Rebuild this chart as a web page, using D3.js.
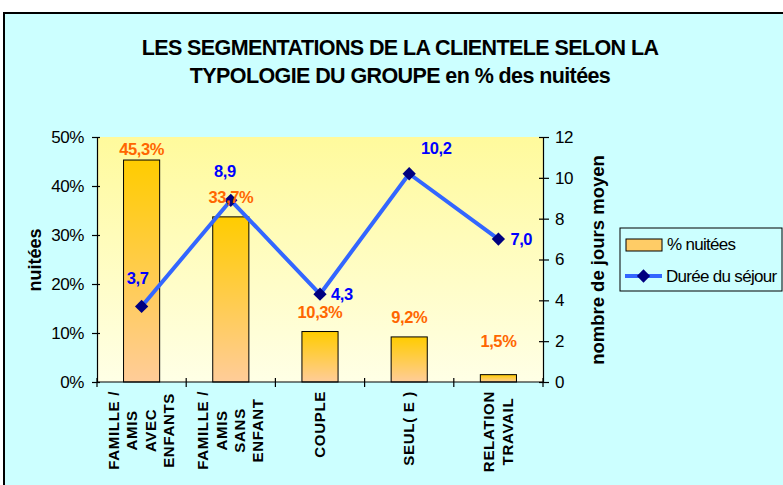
<!DOCTYPE html>
<html>
<head>
<meta charset="utf-8">
<script src="https://cdn.jsdelivr.net/npm/d3@7"></script>
<style>
  html, body { margin: 0; padding: 0; background: #fff; }
  svg { display: block; font-family: "Liberation Sans", Arial, sans-serif; }
</style>
</head>
<body>
<div id="chart"></div>
<script>
// chart values
const categories = ["FAMILLE /\nAMIS\nAVEC\nENFANTS", "FAMILLE /\nAMIS\nSANS\nENFANT", "COUPLE", "SEUL( E )", "RELATION\nTRAVAIL"];
const nuitees = [45.3, 33.7, 10.3, 9.2, 1.5];
const dureeSejour = [3.7, 8.9, 4.3, 10.2, 7.0];
const leftTicks = [0, 10, 20, 30, 40, 50];
const rightTicks = [0, 2, 4, 6, 8, 10, 12];
const titleLines = ["LES SEGMENTATIONS DE LA CLIENTELE SELON LA", "TYPOLOGIE DU GROUPE en % des nuitées"];

const width = 783, height = 485;
const margins = {top: 137, right: 240, bottom: 103, left: 97};
const plotW = width - margins.left - margins.right;
const plotH = height - margins.top - margins.bottom;

const fr = d3.formatLocale({decimal: ",", thousands: " ", grouping: [3], currency: ["", " €"]});
const fmt1 = fr.format(".1f");

const svg = d3.select("#chart").append("svg")
    .attr("width", width)
    .attr("height", height);

const defs = svg.append("defs");
const plotGrad = defs.append("linearGradient").attr("id", "plotGrad")
    .attr("x1", 0).attr("y1", 0).attr("x2", 0).attr("y2", 1);
plotGrad.append("stop").attr("offset", "0%").attr("stop-color", "#FFFA9C");
plotGrad.append("stop").attr("offset", "100%").attr("stop-color", "#FFFFE6");
const barGrad = defs.append("linearGradient").attr("id", "barGrad")
    .attr("x1", 0).attr("y1", 0).attr("x2", 0).attr("y2", 1);
barGrad.append("stop").attr("offset", "0%").attr("stop-color", "#FFCC00");
barGrad.append("stop").attr("offset", "100%").attr("stop-color", "#FFCC99");

// outer frame
svg.append("rect")
    .attr("x", 4).attr("y", 13)
    .attr("width", 800).attr("height", 500)
    .attr("fill", "#CCFFFF")
    .attr("stroke", "#000")
    .attr("stroke-width", 2);

// title
svg.append("g").selectAll("text")
    .data(titleLines)
    .enter()
    .append("text")
    .attr("x", 400)
    .attr("y", (d, i) => 55 + i * 28)
    .attr("text-anchor", "middle")
    .attr("font-size", 21.5)
    .attr("font-weight", "bold")
    .attr("letter-spacing", -0.6)
    .text(d => d);

const g = svg.append("g")
    .attr("transform", "translate(" + margins.left + "," + margins.top + ")");

// scales
const x = d3.scaleBand().domain(categories).range([0, plotW]).paddingInner(0).paddingOuter(0);
const yLeft = d3.scaleLinear().domain([0, 50]).range([plotH, 0]);
const yRight = d3.scaleLinear().domain([0, 12]).range([plotH, 0]);

g.append("rect")
    .attr("width", plotW).attr("height", plotH)
    .attr("fill", "url(#plotGrad)");

// bars
const barW = x.bandwidth() * 0.405;
g.selectAll(".bar")
    .data(nuitees)
    .enter()
    .append("rect")
    .attr("class", "bar")
    .attr("x", (d, i) => x(categories[i]) + (x.bandwidth() - barW) / 2)
    .attr("width", barW)
    .attr("y", d => yLeft(d))
    .attr("height", d => plotH - yLeft(d))
    .attr("fill", "url(#barGrad)")
    .attr("stroke", "#000")
    .attr("stroke-width", 1);

// axes
const leftAxis = g.append("g")
    .call(d3.axisLeft(yLeft).tickValues(leftTicks).tickSize(5).tickPadding(8).tickFormat(d => d + "%"));
const rightAxis = g.append("g")
    .attr("transform", "translate(" + plotW + ",0)")
    .call(d3.axisRight(yRight).tickValues(rightTicks).tickSize(6).tickPadding(6).tickFormat(d => d));
[leftAxis, rightAxis].forEach(ax => {
    ax.select(".domain").attr("stroke", "#000").attr("stroke-width", 1.2);
    ax.selectAll(".tick line").attr("stroke", "#000").attr("stroke-width", 1.2);
    ax.selectAll(".tick text")
        .attr("font-family", "Liberation Sans, Arial, sans-serif")
        .attr("font-size", 17)
        .attr("letter-spacing", -0.4)
        .attr("fill", "#000");
});
leftAxis.selectAll(".tick line").attr("x1", 3);
rightAxis.selectAll(".tick line").attr("x1", -4);

// x axis with boundary ticks
const xAxis = g.append("g").attr("transform", "translate(0," + plotH + ")");
xAxis.append("line").attr("x1", 0).attr("x2", plotW).attr("stroke", "#000").attr("stroke-width", 1.2);
xAxis.selectAll(".bound")
    .data(categories.concat([null]))
    .enter()
    .append("line")
    .attr("x1", (d, i) => i * x.step())
    .attr("x2", (d, i) => i * x.step())
    .attr("y1", -4).attr("y2", 5)
    .attr("stroke", "#000").attr("stroke-width", 1.2);

// category labels, rotated, top-anchored block
const catG = xAxis.selectAll(".cat")
    .data(categories)
    .enter()
    .append("g")
    .attr("class", "cat");
catG.each(function(d, i) {
    const lines = d.split("\n");
    const cx = x(d) + x.bandwidth() / 2;
    const grp = d3.select(this);
    const texts = grp.selectAll("text")
        .data(lines)
        .enter()
        .append("text")
        .attr("font-size", 15)
        .attr("font-weight", "bold")
        .attr("letter-spacing", 0.7)
        .attr("text-anchor", "middle")
        .text(t => t);
    let maxLen = 0;
    texts.each(function() { maxLen = Math.max(maxLen, this.getComputedTextLength()); });
    const cy = 9 + maxLen / 2;
    texts.attr("transform", (t, j) => {
        const bx = cx + 5 + (j - (lines.length - 1) / 2) * 18.3;
        return "translate(" + bx + "," + cy + ") rotate(-90)";
    });
});

// line series
const line = d3.line()
    .x((d, i) => x(categories[i]) + x.bandwidth() / 2)
    .y(d => yRight(d));
g.append("path")
    .datum(dureeSejour)
    .attr("d", line)
    .attr("fill", "none")
    .attr("stroke", "#3366FF")
    .attr("stroke-width", 4)
    .attr("stroke-linejoin", "round");

const diamond = d3.symbol().type(d3.symbolSquare).size(88);
g.selectAll(".marker")
    .data(dureeSejour)
    .enter()
    .append("path")
    .attr("class", "marker")
    .attr("d", diamond)
    .attr("transform", (d, i) => "translate(" + (x(categories[i]) + x.bandwidth() / 2) + "," + yRight(d) + ") rotate(45)")
    .attr("fill", "#000080");

// bar value labels
const barLabelLift = [11, 20, 20, 20, 34];
g.selectAll(".barLabel")
    .data(nuitees)
    .enter()
    .append("text")
    .attr("x", (d, i) => x(categories[i]) + x.bandwidth() / 2)
    .attr("y", (d, i) => yLeft(d) - barLabelLift[i] + 6)
    .attr("text-anchor", "middle")
    .attr("font-size", 16.5)
    .attr("font-weight", "bold")
    .attr("letter-spacing", -0.4)
    .attr("fill", "#FF6600")
    .text(d => fmt1(d) + "%");

// line value labels
const lineLabelOffset = [[-4, -28, "middle"], [-6, -29, "middle"], [11, 0, "start"], [27, -26, "middle"], [12, 0, "start"]];
g.selectAll(".lineLabel")
    .data(dureeSejour)
    .enter()
    .append("text")
    .attr("x", (d, i) => x(categories[i]) + x.bandwidth() / 2 + lineLabelOffset[i][0])
    .attr("y", (d, i) => yRight(d) + lineLabelOffset[i][1] + 6)
    .attr("text-anchor", (d, i) => lineLabelOffset[i][2])
    .attr("font-size", 16.5)
    .attr("font-weight", "bold")
    .attr("letter-spacing", -0.4)
    .attr("fill", "#0000FF")
    .text(d => fmt1(d));

// axis titles
svg.append("text")
    .attr("transform", "translate(41,260) rotate(-90)")
    .attr("text-anchor", "middle")
    .attr("font-size", 18)
    .attr("font-weight", "bold")
    .text("nuitées");
svg.append("text")
    .attr("transform", "translate(604,260) rotate(-90)")
    .attr("text-anchor", "middle")
    .attr("font-size", 18.5)
    .attr("font-weight", "bold")
    .text("nombre de jours moyen");

// legend
const legend = svg.append("g").attr("transform", "translate(620,228)");
legend.append("rect")
    .attr("width", 162).attr("height", 63)
    .attr("fill", "#CCFFFF")
    .attr("stroke", "#000").attr("stroke-width", 1);
legend.append("rect")
    .attr("x", 6).attr("y", 11).attr("width", 36).attr("height", 12)
    .attr("fill", "#FFCC66").attr("stroke", "#000").attr("stroke-width", 1);
legend.append("text")
    .attr("x", 47).attr("y", 22)
    .attr("font-size", 17).attr("letter-spacing", -0.7)
    .text("% nuitées");
legend.append("line")
    .attr("x1", 5).attr("x2", 42).attr("y1", 48).attr("y2", 48)
    .attr("stroke", "#3366FF").attr("stroke-width", 4);
legend.append("path")
    .attr("d", diamond)
    .attr("transform", "translate(23.5,48) rotate(45)")
    .attr("fill", "#000080");
legend.append("text")
    .attr("x", 46).attr("y", 54)
    .attr("font-size", 17).attr("letter-spacing", -0.7)
    .text("Durée du séjour");
</script>
</body>
</html>
